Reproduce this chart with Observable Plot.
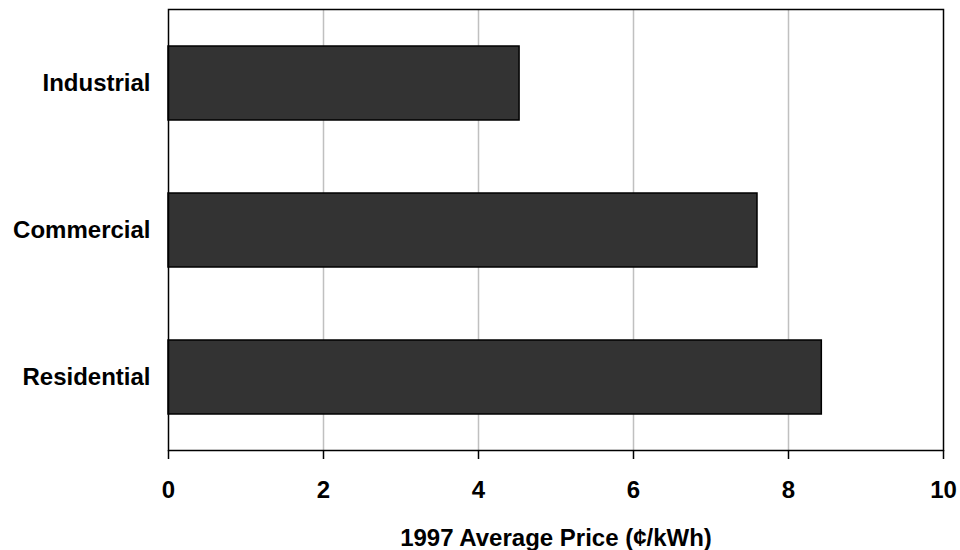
<!DOCTYPE html>
<html>
<head>
<meta charset="utf-8">
<script src="https://cdn.jsdelivr.net/npm/d3@7"></script>
<script src="https://cdn.jsdelivr.net/npm/@observablehq/plot@0.6"></script>
<style>
  html, body { margin: 0; padding: 0; background: #fff; }
</style>
</head>
<body>
<div id="chart"></div>
<script>
const categories = ["Industrial", "Commercial", "Residential"];
const prices = [4.53, 7.60, 8.43];
const xTicks = [0, 2, 4, 6, 8, 10];
const gridTicks = [2, 4, 6, 8];
const xLabel = "1997 Average Price (¢/kWh)";

const data = categories.map((c, i) => ({sector: c, price: prices[i]}));

const chart = Plot.plot({
  width: 960,
  height: 550,
  marginLeft: 168,
  marginRight: 17,
  marginTop: 9,
  marginBottom: 100,
  style: {
    fontFamily: "'Liberation Sans', Arial, sans-serif",
    fontSize: "24px",
    fontWeight: "bold",
    color: "#000",
    background: "#fff"
  },
  x: {domain: [0, 10]},
  y: {domain: categories, paddingInner: 0.5, paddingOuter: 0.25},
  marks: [
    Plot.ruleX(gridTicks, {stroke: "#c0c0c0", strokeWidth: 1.5}),
    Plot.barX(data, {x1: 0, x2: "price", y: "sector", fill: "#333333", stroke: "#000", strokeWidth: 1.5}),
    Plot.frame({stroke: "#000", strokeWidth: 1.5}),
    Plot.axisX({ticks: xTicks, tickSize: 9, tickPadding: 21, strokeWidth: 1.5, label: xLabel, labelAnchor: "center", labelArrow: "none", labelOffset: 95}),
    Plot.axisY({tickSize: 0, tickPadding: 18, label: null})
  ]
});
document.getElementById("chart").appendChild(chart);
</script>
</body>
</html>
